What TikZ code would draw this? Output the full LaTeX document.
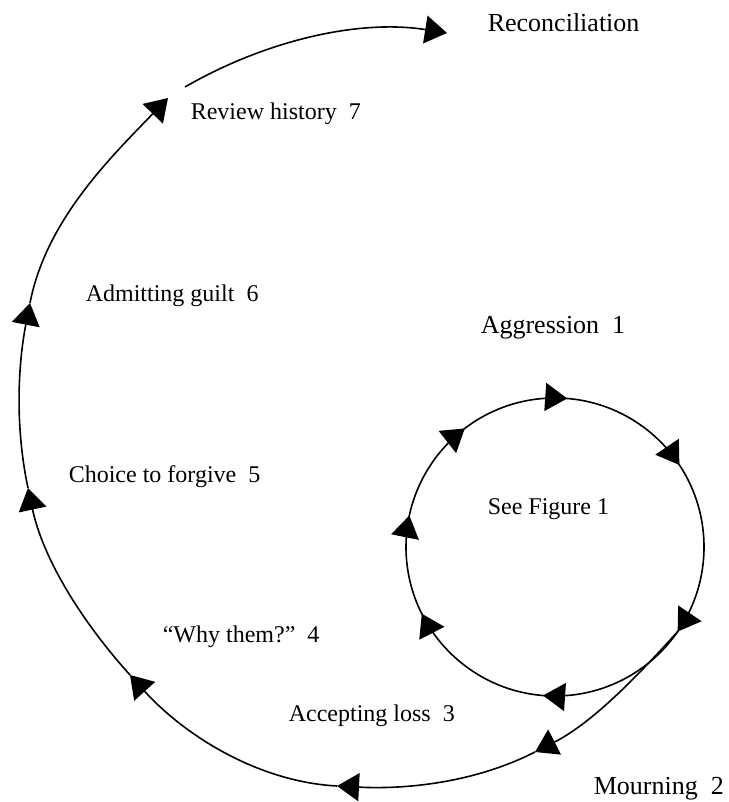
\documentclass[tikz,border=0pt]{standalone}
\usepackage{fontspec}
\setmainfont{Liberation Serif}
\usetikzlibrary{arrows.meta,calc}
\begin{document}
\begin{tikzpicture}[x=1pt,y=1pt,
  line width=1.6pt,
  arr/.style={-{Triangle[length=22pt,width=28pt]}},
  lbl/.style={anchor=base west,inner sep=0pt,font=\fontsize{24}{28}\selectfont},
  biglbl/.style={anchor=base west,inner sep=0pt,font=\fontsize{26}{30}\selectfont},
  curve/.style={arr,looseness=0.87}]
\useasboundingbox (0,0) rectangle (728,802);
% small circle
\coordinate (C) at (555,255);
\draw (C) circle[radius=149];
\foreach \a/\n in {85.3/s1,33.4/s2,-34.6/s3,-94.6/s4,-153.4/s5,167.8/s6,127.3/s7}{
  \coordinate (\n) at ($(C)+(\a:149)$);
  \draw[arr] ($(C)+(\a+1.5:149)$) -- (\n);
}
% outer spiral
\coordinate (A1) at (535,50);
\coordinate (A2) at (337,16);
\coordinate (A3) at (130,127);
\coordinate (A4) at (28,314);
\coordinate (A5) at (30,499);
\coordinate (A6) at (168,704);
\coordinate (T0) at (185,715);
\coordinate (A7) at (447,769);
\draw[curve] (s3) to[out=228,in=27] (A1);
\draw[curve] (A1) to[out=207,in=-3] (A2);
\draw[curve] (A2) to[out=177,in=-48] (A3);
\draw[curve] (A3) to[out=132,in=-78] (A4);
\draw[curve] (A4) to[out=102,in=-101] (A5);
\draw[curve] (A5) to[out=79,in=-134] (A6);
\draw[curve] (T0) to[out=30,in=171] (A7);
% labels
\node[biglbl] (rec) at (487,770) {Reconciliation};
\node[lbl] (rev) at (190,682) {Review history~~7};
\node[lbl] (adm) at (85,500) {Admitting guilt~~6};
\node[lbl] (cho) at (68,319) {Choice to forgive~~5};
\node[biglbl] (agg) at (480,468) {Aggression~~1};
\node[lbl] (see) at (487,287) {See Figure 1};
\node[lbl] (why) at (162,159) {“Why them?”~~4};
\node[lbl] (acc) at (288,80) {Accepting loss~~3};
\node[biglbl] (mou) at (593,8) {Mourning~~2};
\end{tikzpicture}
\end{document}
